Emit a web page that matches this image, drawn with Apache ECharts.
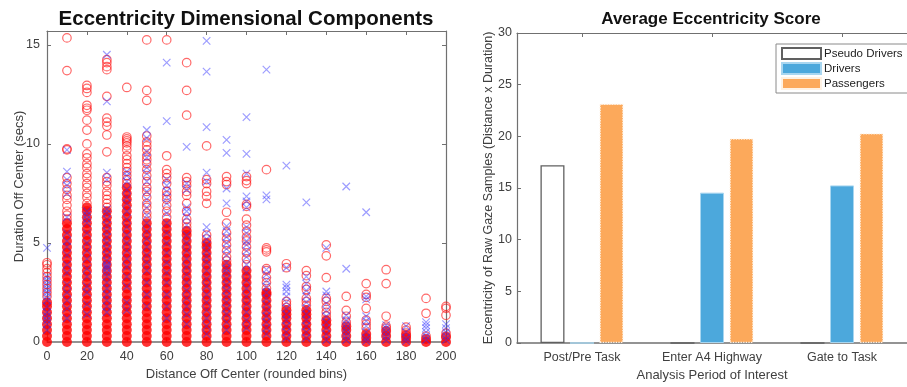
<!DOCTYPE html>
<html lang="en">
<head>
<meta charset="UTF-8">
<title>Eccentricity</title>
<script src="https://cdn.jsdelivr.net/npm/echarts@6/dist/echarts.min.js"></script>
<style>
  html, body { margin: 0; padding: 0; background: #fff; }
</style>
</head>
<body>
<div id="main" style="width:907px;height:387px;"></div>
<script>
// ---- left panel: distance bins vs duration ----
const xBins = [0, 10, 20, 30, 40, 50, 60, 70, 80, 90, 100, 110, 120, 130, 140, 150, 160, 170, 180, 190, 200];

// lower part of every column, where the red circles pile up into a solid bar
const redDense = [
  [0, 0.3, 0.6, 0.9, 1.2, 1.5, 1.8, 2.0],
  [0, 0.3, 0.6, 0.9, 1.2, 1.5, 1.8, 2.1, 2.4, 2.7, 3.0, 3.3, 3.6, 3.9, 4.2, 4.5, 4.8, 5.1, 5.4, 5.7, 6.0],
  [0, 0.3, 0.6, 0.9, 1.2, 1.5, 1.8, 2.1, 2.4, 2.7, 3.0, 3.3, 3.6, 3.9, 4.2, 4.5, 4.8, 5.1, 5.4, 5.7, 6.0, 6.3, 6.6, 6.8],
  [0, 0.3, 0.6, 0.9, 1.2, 1.5, 1.8, 2.1, 2.4, 2.7, 3.0, 3.3, 3.6, 3.9, 4.2, 4.5, 4.8, 5.1, 5.4, 5.7, 6.0, 6.3, 6.6],
  [0, 0.3, 0.6, 0.9, 1.2, 1.5, 1.8, 2.1, 2.4, 2.7, 3.0, 3.3, 3.6, 3.9, 4.2, 4.5, 4.8, 5.1, 5.4, 5.7, 6.0, 6.3, 6.6, 6.9, 7.2, 7.5, 7.8],
  [0, 0.3, 0.6, 0.9, 1.2, 1.5, 1.8, 2.1, 2.4, 2.7, 3.0, 3.3, 3.6, 3.9, 4.2, 4.5, 4.8, 5.1, 5.4, 5.7, 6.0],
  [0, 0.3, 0.6, 0.9, 1.2, 1.5, 1.8, 2.1, 2.4, 2.7, 3.0, 3.3, 3.6, 3.9, 4.2, 4.5, 4.8, 5.1, 5.4, 5.7, 6.0],
  [0, 0.3, 0.6, 0.9, 1.2, 1.5, 1.8, 2.1, 2.4, 2.7, 3.0, 3.3, 3.6, 3.9, 4.2, 4.5, 4.8, 5.1, 5.4, 5.6],
  [0, 0.3, 0.6, 0.9, 1.2, 1.5, 1.8, 2.1, 2.4, 2.7, 3.0, 3.3, 3.6, 3.9, 4.2, 4.5, 4.8, 5.0],
  [0, 0.3, 0.6, 0.9, 1.2, 1.5, 1.8, 2.1, 2.4, 2.7, 3.0, 3.3, 3.6, 3.9],
  [0, 0.3, 0.6, 0.9, 1.2, 1.5, 1.8, 2.1, 2.4, 2.7, 3.0, 3.3, 3.6],
  [0, 0.3, 0.6, 0.9, 1.2, 1.5, 1.8, 2.1, 2.4, 2.5],
  [0, 0.3, 0.6, 0.9, 1.2, 1.4, 1.6],
  [0, 0.3, 0.6, 0.9, 1.2, 1.4, 1.6],
  [0, 0.3, 0.6, 0.9, 1.1],
  [0, 0.3, 0.6, 0.8],
  [0, 0.2, 0.4],
  [0, 0.3, 0.55],
  [0, 0.2, 0.35],
  [0, 0.15],
  [0, 0.25]
];

// scattered red circles above the solid part
const redRings = [
  [4.0, 3.9, 3.7, 3.5, 3.3, 3.1, 2.9, 2.7, 2.5, 2.3],
  [15.35, 13.7, 9.75, 9.7, 8.3, 8.0, 7.7, 7.4, 7.2, 6.9, 6.6, 6.4, 6.2],
  [12.95, 12.8, 12.6, 11.95, 11.8, 11.7, 11.2, 10.7, 10.0, 9.5, 9.3, 9.0, 8.8, 8.5, 8.3, 8.0, 7.8, 7.5, 7.3, 7.0],
  [14.25, 14.1, 13.9, 13.75, 12.4, 11.3, 11.1, 10.9, 10.45, 9.6, 8.3, 8.1, 7.9, 7.6, 7.4, 7.2, 7.0, 6.8],
  [12.85, 10.35, 10.25, 10.15, 10.05, 9.9, 9.7, 9.4, 9.2, 9.0, 8.8, 8.6, 8.4, 8.2, 8.0],
  [15.25, 12.7, 12.2, 10.4, 10.1, 9.9, 9.7, 9.4, 9.2, 9.0, 8.7, 8.4, 8.1, 7.8, 7.6, 7.3, 7.0, 6.8, 6.5, 6.3],
  [15.25, 9.4, 8.7, 8.5, 8.3, 8.0, 7.6, 7.4, 7.2, 6.9, 6.6, 6.3],
  [14.1, 12.7, 11.45, 8.3, 8.1, 7.9, 7.6, 7.4, 7.0, 6.6, 6.2, 6.0, 5.8],
  [9.9, 8.2, 8.0, 7.6, 7.35, 7.0, 5.4, 5.2],
  [8.35, 8.1, 7.95, 6.55, 6.0, 5.5, 5.2, 4.9, 4.6, 4.3, 4.1],
  [8.35, 8.15, 8.0, 6.95, 6.85, 6.2, 5.9, 5.6, 5.3, 5.1, 4.8, 4.5, 4.2, 3.9],
  [8.7, 4.75, 4.65, 4.55, 3.7, 3.6, 3.25, 3.0, 2.7],
  [3.95, 3.75, 2.05, 1.9, 1.75],
  [3.6, 3.35, 2.8, 2.65, 2.2, 2.05, 1.85],
  [4.9, 4.35, 3.25, 2.2, 2.05, 1.75, 1.5, 1.3],
  [2.3, 1.6, 1.3, 1.0],
  [2.95, 2.4, 2.25, 1.7, 1.1, 0.9, 0.7],
  [3.65, 2.95, 1.3, 0.8, 0.7],
  [0.75, 0.6, 0.45],
  [2.2, 1.45, 0.3],
  [1.8, 1.7, 1.35, 0.45, 0.3]
];

// blue crosses
const blueMarks = [
  [4.75, 3.3, 3.1, 2.9, 2.7, 2.5, 2.3, 2.1, 1.8, 1.5, 1.3, 1.1, 0.9, 0.6],
  [9.7, 8.6, 8.2, 7.9, 7.5, 6.3, 5.5, 5.1, 4.8, 4.4, 3.9, 3.5, 2.9, 2.5, 2.1, 1.7, 1.2],
  [6.6, 6.4, 6.2, 6.0, 5.5, 5.0, 4.6, 4.2, 3.7, 3.3, 2.8, 2.5, 1.9, 1.4],
  [14.5, 12.15, 8.55, 8.2, 6.7, 6.5, 6.2, 5.9, 5.6, 5.3, 5.0, 4.7, 4.4, 4.1, 3.9, 3.8, 3.7, 3.5, 3.3, 3.0, 2.7, 2.4, 2.1, 1.8, 1.5],
  [8.6, 8.4, 8.1, 7.7, 7.3, 7.0, 6.6, 6.2, 5.8, 5.4, 5.0, 4.6, 4.2, 3.8, 3.3, 2.8, 2.0, 1.6],
  [10.7, 10.3, 9.6, 9.3, 8.8, 8.5, 8.1, 7.6, 7.2, 6.8, 6.4, 6.0, 5.6, 5.2, 4.8, 4.4, 4.0, 3.6, 3.0, 2.4, 1.8],
  [14.1, 11.15, 8.2, 7.9, 7.6, 7.3, 7.0, 6.5, 6.0, 5.5, 5.0, 4.5, 4.0, 3.5, 3.0, 2.4, 1.8, 1.2],
  [9.85, 8.0, 7.7, 6.8, 6.6, 6.3, 5.9, 5.4, 5.0, 4.6, 4.2, 3.8, 3.4, 3.0, 2.6, 2.2, 1.8, 1.4, 0.9],
  [15.2, 13.65, 10.85, 8.55, 8.1, 5.8, 5.5, 5.2, 4.9, 4.6, 4.3, 4.0, 3.6, 3.2, 2.8, 2.4, 2.0, 1.6, 1.2, 0.8, 0.4],
  [10.2, 9.55, 7.75, 7.0, 5.85, 5.6, 5.3, 5.0, 4.7, 4.4, 4.0, 3.7, 3.5, 3.2, 2.9, 2.6, 2.3, 2.0, 1.7, 1.4, 1.0, 0.6],
  [11.35, 9.5, 8.5, 7.35, 7.1, 6.8, 5.8, 5.5, 5.1, 4.9, 4.6, 4.3, 3.9, 3.5, 3.1, 2.7, 2.3, 1.9, 1.5, 1.1, 0.7],
  [13.75, 7.4, 7.2, 3.65, 3.4, 3.1, 2.8, 2.5, 2.2, 1.9, 1.6, 1.3, 1.0, 0.7, 0.4],
  [8.9, 3.75, 2.9, 2.75, 2.55, 2.3, 2.0, 1.7, 1.4, 1.1, 0.8, 0.5, 0.2],
  [7.05, 3.3, 2.95, 2.6, 2.3, 2.0, 1.7, 1.4, 1.1, 0.8, 0.5, 0.2],
  [4.75, 2.55, 2.35, 1.95, 1.6, 1.3, 1.0, 0.7, 0.4, 0.1],
  [7.85, 3.7, 1.35, 1.1, 0.9, 0.7, 0.5, 0.3, 0.1],
  [6.55, 2.3, 2.15, 1.3, 1.05, 0.8, 0.5, 0.2, 0.05],
  [0.85, 0.7, 0.5, 0.3, 0.1],
  [0.8, 0.5, 0.2, 0.05],
  [1.0, 0.85, 0.7, 0.5, 0.3, 0.1],
  [0.9, 0.7, 0.5, 0.3, 0.1]
];

// ---- right panel: average score per period ----
const periods = ['Post/Pre Task', 'Enter A4 Highway', 'Gate to Task'];
const pseudoDrivers = [17.2, 0, 0];
const drivers = [0, 14.55, 15.25];
const passengers = [23.15, 19.8, 20.3];

function toPoints(lists) {
  let pts = [];
  for (let i = 0; i < xBins.length; i++) {
    lists[i].forEach(v => pts.push([xBins[i], v]));
  }
  return pts;
}

const font = 'Liberation Sans, Arial, sans-serif';
const axisCol = '#707070';
const labelCol = '#404040';
const crossPath = 'path://M0,0L10,10M10,0L0,10';

var myChart = echarts.init(document.getElementById('main'));

// mirrored box edge (top / right) with inward ticks, no labels
function boxSide(extra) {
  return Object.assign({
    axisLine: { show: true, onZero: false, lineStyle: { color: axisCol, width: 1.2 } },
    axisTick: { show: true, inside: true, length: 4, lineStyle: { color: axisCol } },
    axisLabel: { show: false },
    splitLine: { show: false }
  }, extra);
}

option = {
  animation: false,
  backgroundColor: '#fff',
  textStyle: { fontFamily: font },
  title: [
    { text: 'Eccentricity Dimensional Components', left: 241, top: 4, textAlign: 'center',
      textStyle: { fontFamily: font, fontSize: 20.5, fontWeight: 'bold', color: '#111' } },
    { text: 'Average Eccentricity Score', left: 706, top: 6, textAlign: 'center',
      textStyle: { fontFamily: font, fontSize: 17, fontWeight: 'bold', color: '#111' } }
  ],
  legend: {
    data: ['Pseudo Drivers', 'Drivers', 'Passengers'],
    orient: 'vertical',
    left: 776, top: 44,
    itemWidth: 39, itemHeight: 11, itemGap: 2,
    padding: [3, 10, 3, 5],
    borderColor: '#8a8a8a', borderWidth: 1,
    backgroundColor: '#fff',
    icon: 'rect',
    textStyle: { fontFamily: font, fontSize: 11.5, color: '#222', padding: [0, 0, 0, -2] }
  },
  grid: [
    { left: 47, right: 461, top: 31, bottom: 45 },
    { left: 517, right: -9, top: 33, bottom: 44 }
  ],
  xAxis: [
    {
      gridIndex: 0, type: 'value', min: 0, max: 200, interval: 20,
      name: 'Distance Off Center (rounded bins)', nameLocation: 'middle', nameGap: 25,
      nameTextStyle: { fontFamily: font, fontSize: 13, color: labelCol },
      axisLine: { onZero: false, lineStyle: { color: axisCol, width: 1.5 } },
      axisTick: { inside: true, length: 4, lineStyle: { color: axisCol } },
      axisLabel: { fontFamily: font, fontSize: 12.5, color: labelCol, margin: 8 },
      splitLine: { show: false }
    },
    boxSide({ gridIndex: 0, type: 'value', min: 0, max: 200, interval: 20, position: 'top' }),
    {
      gridIndex: 1, type: 'category', data: periods,
      name: 'Analysis Period of Interest', nameLocation: 'middle', nameGap: 25,
      nameTextStyle: { fontFamily: font, fontSize: 13, color: labelCol },
      axisLine: { onZero: false, lineStyle: { color: axisCol, width: 1.5 } },
      axisTick: { inside: true, length: 4, alignWithLabel: true, lineStyle: { color: axisCol } },
      axisLabel: { fontFamily: font, fontSize: 12.5, color: labelCol, margin: 8, interval: 0 },
      splitLine: { show: false }
    },
    boxSide({ gridIndex: 1, type: 'category', data: periods, position: 'top',
      axisTick: { show: true, inside: true, length: 4, alignWithLabel: true, interval: 0, lineStyle: { color: axisCol } } })
  ],
  yAxis: [
    {
      gridIndex: 0, type: 'value', min: 0, max: 15.7, interval: 5,
      name: 'Duration Off Center (secs)', nameLocation: 'middle', nameGap: 21, nameMoveOverlap: false,
      nameTextStyle: { fontFamily: font, fontSize: 13, color: labelCol },
      axisLine: { show: true, onZero: false, lineStyle: { color: axisCol, width: 1.2 } },
      axisTick: { show: true, inside: true, length: 4, lineStyle: { color: axisCol } },
      axisLabel: { fontFamily: font, fontSize: 12.5, color: labelCol, margin: 7, showMaxLabel: false },
      splitLine: { show: false }
    },
    boxSide({ gridIndex: 0, type: 'value', min: 0, max: 15.7, interval: 5, position: 'right' }),
    {
      gridIndex: 1, type: 'value', min: 0, max: 30, interval: 5,
      name: 'Eccentricity of Raw Gaze Samples (Distance x Duration)', nameLocation: 'middle', nameGap: 22, nameMoveOverlap: false,
      nameTextStyle: { fontFamily: font, fontSize: 12.5, color: labelCol },
      axisLine: { show: true, onZero: false, lineStyle: { color: axisCol, width: 1.2 } },
      axisTick: { show: true, inside: true, length: 4, lineStyle: { color: axisCol } },
      axisLabel: { fontFamily: font, fontSize: 12.5, color: labelCol, margin: 5 },
      splitLine: { show: false }
    }
  ],
  series: [
    {
      name: 'red solid', type: 'scatter', xAxisIndex: 0, yAxisIndex: 0, clip: false, silent: true,
      symbol: 'circle', symbolSize: 10,
      itemStyle: { color: '#ff0000' },
      data: toPoints(redDense)
    },
    {
      name: 'red rings', type: 'scatter', xAxisIndex: 0, yAxisIndex: 0, clip: false, silent: true,
      symbol: 'circle', symbolSize: 8.5,
      itemStyle: { color: 'rgba(255,255,255,0)', borderColor: 'rgba(255,20,20,0.8)', borderWidth: 1.2 },
      data: toPoints(redRings)
    },
    {
      name: 'blue', type: 'scatter', xAxisIndex: 0, yAxisIndex: 0, clip: false, silent: true,
      symbol: crossPath, symbolSize: 7.5,
      itemStyle: { color: 'rgba(0,0,0,0)', borderColor: 'rgba(50,50,255,0.6)', borderWidth: 1.2 },
      data: toPoints(blueMarks)
    },
    {
      name: 'Pseudo Drivers', type: 'bar', xAxisIndex: 2, yAxisIndex: 2,
      barWidth: 24, barGap: '23%',
      itemStyle: { color: '#ffffff', borderColor: '#606060', borderWidth: 1.3 },
      data: pseudoDrivers
    },
    {
      name: 'Drivers', type: 'bar', xAxisIndex: 2, yAxisIndex: 2,
      barWidth: 24, barGap: '23%',
      itemStyle: { color: '#4ca8dc', borderColor: '#a8d6f0', borderWidth: 1 },
      data: drivers
    },
    {
      name: 'Passengers', type: 'bar', xAxisIndex: 2, yAxisIndex: 2,
      barWidth: 24, barGap: '23%',
      itemStyle: { color: '#fca95b', borderColor: '#fff2e4', borderWidth: 1.3, borderType: 'dotted' },
      data: passengers
    }
  ]
};

myChart.setOption(option);
</script>
</body>
</html>
